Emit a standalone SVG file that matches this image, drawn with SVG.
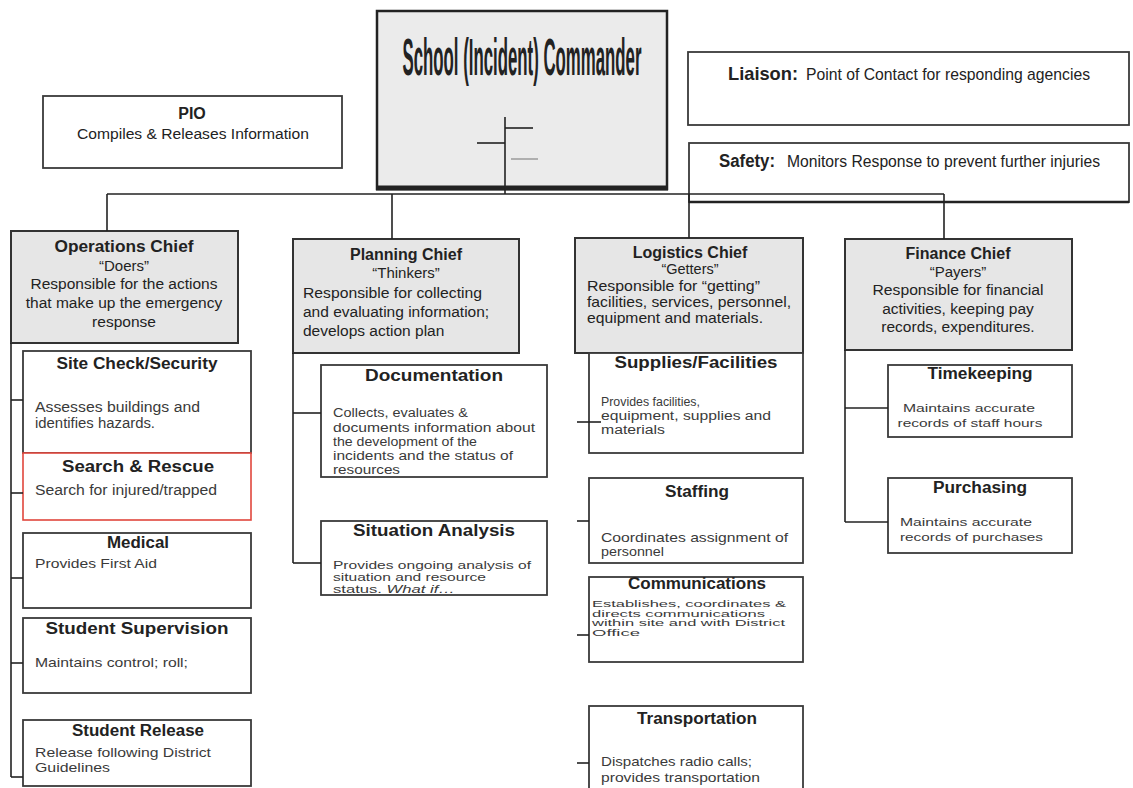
<svg xmlns="http://www.w3.org/2000/svg" width="1133" height="788" viewBox="0 0 1133 788">
<style>
text{font-family:"Liberation Sans",Arial,sans-serif;fill:#222}
.box{fill:#fff;stroke:#3a3a3a;stroke-width:1.8}
.chief{fill:#e6e6e6;stroke:#333;stroke-width:2}
.red{fill:#fff;stroke:#e0463c;stroke-width:1.6}
.ln{stroke:#222;stroke-width:1.6;fill:none}
.h{font-weight:bold;font-size:16px;text-anchor:middle}
.c{text-anchor:middle}
.b{fill:#3a3a3a}
</style>
<rect width="1133" height="788" fill="#fff"/>
<g id="commander">
<rect x="377" y="11" width="290" height="178" fill="#ebebeb" stroke="#222" stroke-width="2.5"/>
<line x1="376" y1="188" x2="668" y2="188" stroke="#222" stroke-width="5"/>
<text transform="translate(522,75) scale(1,2.35)" x="0" y="0" class="c" font-weight="bold" font-size="22" textLength="239" lengthAdjust="spacingAndGlyphs">School (Incident) Commander</text>
<line class="ln" x1="505" y1="128" x2="533" y2="128"/>
<line class="ln" x1="477" y1="143" x2="505" y2="143"/>
<line x1="511" y1="159" x2="538" y2="159" stroke="#888" stroke-width="1.2"/>
</g>
<g id="liaison">
<rect class="box" x="688" y="52" width="441" height="73"/>
<text x="728" y="80" font-size="18.5" font-weight="bold" textLength="70" lengthAdjust="spacingAndGlyphs">Liaison:</text>
<text x="806" y="80" font-size="17" textLength="284" lengthAdjust="spacingAndGlyphs">Point of Contact for responding agencies</text>
</g>
<g id="safety">
<rect class="box" x="689" y="143" width="440" height="59"/>
<line x1="689" y1="202" x2="1129" y2="202" stroke="#222" stroke-width="2.5"/>
<text x="719" y="167" font-size="17.5" font-weight="bold" textLength="56" lengthAdjust="spacingAndGlyphs">Safety:</text>
<text x="787" y="167" font-size="16" textLength="313" lengthAdjust="spacingAndGlyphs">Monitors Response to prevent further injuries</text>
</g>
<g id="pio">
<rect class="box" x="43" y="96" width="299" height="72"/>
<text x="192" y="119" class="h" font-size="18">PIO</text>
<text x="193" y="139" class="c" font-size="15.5" textLength="232" lengthAdjust="spacingAndGlyphs">Compiles &amp; Releases Information</text>
</g>
<g id="operations">
<rect class="chief" x="11" y="231" width="227" height="112"/>
<text x="124" y="252" class="h" textLength="139" lengthAdjust="spacingAndGlyphs">Operations Chief</text>
<text x="124" y="271" class="c" font-size="15">“Doers”</text>
<text x="124" y="289" class="c" font-size="15.5">Responsible for the actions</text>
<text x="124" y="308" class="c" font-size="15.5">that make up the emergency</text>
<text x="124" y="327" class="c" font-size="15.5">response</text>
</g>
<g id="site-check">
<rect class="box" x="23" y="351" width="228" height="102"/>
<text x="137" y="369" class="h" font-size="15.5" textLength="161" lengthAdjust="spacingAndGlyphs">Site Check/Security</text>
<text x="35" y="412" font-size="14" class="b" textLength="165" lengthAdjust="spacingAndGlyphs">Assesses buildings and</text>
<text x="35" y="428" font-size="14" class="b" textLength="120" lengthAdjust="spacingAndGlyphs">identifies hazards.</text>
</g>
<g id="search-rescue">
<rect class="red" x="23" y="453" width="228" height="67"/>
<text x="138" y="472" class="h" font-size="16" textLength="152" lengthAdjust="spacingAndGlyphs">Search &amp; Rescue</text>
<text x="35" y="495" font-size="14" class="b" textLength="182" lengthAdjust="spacingAndGlyphs">Search for injured/trapped</text>
</g>
<g id="medical">
<rect class="box" x="23" y="533" width="228" height="75"/>
<text x="138" y="548" class="h" font-size="13.5" textLength="62" lengthAdjust="spacingAndGlyphs">Medical</text>
<text x="35" y="568" font-size="13.5" class="b" textLength="122" lengthAdjust="spacingAndGlyphs">Provides First Aid</text>
</g>
<g id="student-supervision">
<rect class="box" x="23" y="618" width="228" height="75"/>
<text x="137" y="634" class="h" font-size="15.5" textLength="183" lengthAdjust="spacingAndGlyphs">Student Supervision</text>
<text x="35" y="667" font-size="13.5" class="b" textLength="153" lengthAdjust="spacingAndGlyphs">Maintains control; roll;</text>
</g>
<g id="student-release">
<rect class="box" x="23" y="720" width="228" height="66"/>
<text x="138" y="736" class="h" font-size="14.5" textLength="132" lengthAdjust="spacingAndGlyphs">Student Release</text>
<text x="35" y="757" font-size="13.5" class="b" textLength="176" lengthAdjust="spacingAndGlyphs">Release following District</text>
<text x="35" y="772" font-size="13.5" class="b" textLength="75" lengthAdjust="spacingAndGlyphs">Guidelines</text>
</g>
<g id="planning">
<rect class="chief" x="293" y="239" width="226" height="114"/>
<text x="406" y="260" class="h">Planning Chief</text>
<text x="406" y="278" class="c" font-size="15">“Thinkers”</text>
<text x="303" y="298" font-size="15.5" textLength="179" lengthAdjust="spacingAndGlyphs">Responsible for collecting</text>
<text x="303" y="317" font-size="15.5">and evaluating information;</text>
<text x="303" y="336" font-size="15.5">develops action plan</text>
</g>
<g id="documentation">
<rect class="box" x="321" y="365" width="226" height="112"/>
<text x="434" y="381" class="h" font-size="15.5" textLength="138" lengthAdjust="spacingAndGlyphs">Documentation</text>
<text x="333" y="417" font-size="12.5" class="b" textLength="135" lengthAdjust="spacingAndGlyphs">Collects, evaluates &amp;</text>
<text x="333" y="432" font-size="12.5" class="b" textLength="202" lengthAdjust="spacingAndGlyphs">documents information about</text>
<text x="333" y="446" font-size="12.5" class="b" textLength="144" lengthAdjust="spacingAndGlyphs">the development of the</text>
<text x="333" y="460" font-size="12.5" class="b" textLength="180" lengthAdjust="spacingAndGlyphs">incidents and the status of</text>
<text x="333" y="474" font-size="12.5" class="b" textLength="67" lengthAdjust="spacingAndGlyphs">resources</text>
</g>
<g id="situation-analysis">
<rect class="box" x="321" y="521" width="226" height="74"/>
<text x="434" y="536" class="h" font-size="14.5" textLength="162" lengthAdjust="spacingAndGlyphs">Situation Analysis</text>
<text x="333" y="569" font-size="11.5" class="b" textLength="198" lengthAdjust="spacingAndGlyphs">Provides ongoing analysis of</text>
<text x="333" y="581" font-size="11.5" class="b" textLength="153" lengthAdjust="spacingAndGlyphs">situation and resource</text>
<text x="333" y="593" font-size="11.5" class="b" textLength="122" lengthAdjust="spacingAndGlyphs">status.  <tspan font-style="italic">What if…</tspan></text>
</g>
<g id="logistics">
<rect class="chief" x="575" y="238" width="228" height="115"/>
<text x="690" y="258" class="h">Logistics Chief</text>
<text x="690" y="274" class="c" font-size="14.5">“Getters”</text>
<text x="587" y="291" font-size="14.5" textLength="173" lengthAdjust="spacingAndGlyphs">Responsible for “getting”</text>
<text x="587" y="307" font-size="14.5" textLength="204" lengthAdjust="spacingAndGlyphs">facilities, services, personnel,</text>
<text x="587" y="323" font-size="14.5" textLength="176" lengthAdjust="spacingAndGlyphs">equipment and materials.</text>
</g>
<g id="supplies-facilities">
<rect class="box" x="589" y="353" width="214" height="100"/>
<text x="696" y="368" class="h" font-size="15.5" textLength="163" lengthAdjust="spacingAndGlyphs">Supplies/Facilities</text>
<text x="601" y="406" font-size="12.5" class="b" textLength="99" lengthAdjust="spacingAndGlyphs">Provides facilities,</text>
<text x="601" y="420" font-size="12.5" class="b" textLength="170" lengthAdjust="spacingAndGlyphs">equipment, supplies and</text>
<text x="601" y="434" font-size="12.5" class="b" textLength="64" lengthAdjust="spacingAndGlyphs">materials</text>
</g>
<g id="staffing">
<rect class="box" x="589" y="478" width="214" height="85"/>
<text x="697" y="497" class="h" font-size="15" textLength="64" lengthAdjust="spacingAndGlyphs">Staffing</text>
<text x="601" y="542" font-size="13.5" class="b" textLength="187" lengthAdjust="spacingAndGlyphs">Coordinates assignment of</text>
<text x="601" y="556" font-size="13.5" class="b" textLength="63" lengthAdjust="spacingAndGlyphs">personnel</text>
</g>
<g id="communications">
<rect class="box" x="589" y="577" width="214" height="85" stroke="#777"/>
<text x="697" y="589" class="h" font-size="10.5" textLength="138" lengthAdjust="spacingAndGlyphs">Communications</text>
<text x="592" y="607" font-size="9.5" class="b" textLength="194" lengthAdjust="spacingAndGlyphs">Establishes, coordinates &amp;</text>
<text x="592" y="616.5" font-size="9.5" class="b" textLength="173" lengthAdjust="spacingAndGlyphs">directs communications</text>
<text x="592" y="626" font-size="9.5" class="b" textLength="193" lengthAdjust="spacingAndGlyphs">within site and with District</text>
<text x="592" y="635.5" font-size="9.5" class="b" textLength="48" lengthAdjust="spacingAndGlyphs">Office</text>
</g>
<g id="transportation">
<rect class="box" x="589" y="706" width="214" height="90"/>
<text x="697" y="724" class="h" font-size="15.5" textLength="120" lengthAdjust="spacingAndGlyphs">Transportation</text>
<text x="601" y="766" font-size="13.5" class="b" textLength="151" lengthAdjust="spacingAndGlyphs">Dispatches radio calls;</text>
<text x="601" y="782" font-size="13.5" class="b" textLength="159" lengthAdjust="spacingAndGlyphs">provides transportation</text>
</g>
<g id="finance">
<rect class="chief" x="845" y="239" width="227" height="111"/>
<text x="958" y="259" class="h">Finance Chief</text>
<text x="958" y="277" class="c" font-size="15">“Payers”</text>
<text x="958" y="295" class="c" font-size="15.5" textLength="171" lengthAdjust="spacingAndGlyphs">Responsible for financial</text>
<text x="958" y="314" class="c" font-size="15.5">activities, keeping pay</text>
<text x="958" y="332" class="c" font-size="15.5">records, expenditures.</text>
</g>
<g id="timekeeping">
<rect class="box" x="888" y="365" width="184" height="72"/>
<text x="980" y="379" class="h" font-size="12" textLength="105" lengthAdjust="spacingAndGlyphs">Timekeeping</text>
<text x="969" y="412" class="c b" font-size="11.5" textLength="132" lengthAdjust="spacingAndGlyphs">Maintains accurate</text>
<text x="970" y="427" class="c b" font-size="11.5" textLength="145" lengthAdjust="spacingAndGlyphs">records of staff hours</text>
</g>
<g id="purchasing">
<rect class="box" x="888" y="478" width="184" height="75"/>
<text x="980" y="493" class="h" font-size="13" textLength="94" lengthAdjust="spacingAndGlyphs">Purchasing</text>
<text x="900" y="526" font-size="11.5" class="b" textLength="132" lengthAdjust="spacingAndGlyphs">Maintains accurate</text>
<text x="900" y="541" font-size="11.5" class="b" textLength="143" lengthAdjust="spacingAndGlyphs">records of purchases</text>
</g>
<g id="connectors">
<line class="ln" x1="107" y1="194" x2="944" y2="194"/>
<line class="ln" x1="107" y1="194" x2="107" y2="231"/>
<line class="ln" x1="392" y1="194" x2="392" y2="239"/>
<line class="ln" x1="689" y1="194" x2="689" y2="238"/>
<line class="ln" x1="944" y1="194" x2="944" y2="239"/>
<line class="ln" x1="505" y1="117" x2="505" y2="194"/>
<line class="ln" x1="11" y1="343" x2="11" y2="777"/>
<line class="ln" x1="11" y1="400" x2="23" y2="400"/>
<line class="ln" x1="11" y1="493" x2="23" y2="493"/>
<line class="ln" x1="11" y1="578" x2="23" y2="578"/>
<line class="ln" x1="11" y1="663" x2="23" y2="663"/>
<line class="ln" x1="11" y1="777" x2="23" y2="777"/>
<line class="ln" x1="293" y1="353" x2="293" y2="563"/>
<line class="ln" x1="293" y1="413" x2="321" y2="413"/>
<line class="ln" x1="293" y1="563" x2="321" y2="563"/>
<line class="ln" x1="577" y1="422" x2="601" y2="422"/>
<line class="ln" x1="577" y1="521" x2="589" y2="521"/>
<line class="ln" x1="577" y1="635" x2="589" y2="635"/>
<line class="ln" x1="577" y1="763" x2="589" y2="763"/>
<line class="ln" x1="845" y1="350" x2="845" y2="522"/>
<line class="ln" x1="845" y1="408" x2="888" y2="408"/>
<line class="ln" x1="845" y1="522" x2="888" y2="522"/>
</g>
</svg>
